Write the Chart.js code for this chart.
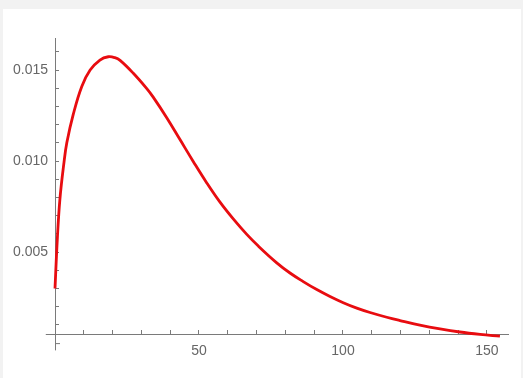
<!DOCTYPE html>
<html>
<head>
<meta charset="utf-8">
<script src="https://cdn.jsdelivr.net/npm/chart.js@4.4.0/dist/chart.umd.min.js"></script>
<style>
  html, body { margin: 0; padding: 0; background: #f2f2f2; }
  #wrap { position: absolute; left: 3px; top: 9px; width: 518px; height: 369px; background: #fff; }
</style>
</head>
<body>
<div id="wrap"><canvas id="chart" width="518" height="369"></canvas></div>
<script>
// curve
const xValues = [0, 0.8, 1.7, 3.1, 4.1, 6.4, 9.3, 12.2, 15.6, 18.5, 20.8, 22.6, 27.2, 31.8, 34.1, 38.8, 43.4, 48.0, 52.7, 57.3, 61.9, 66.6, 70.6, 77.0, 81.6, 86.2, 90.9, 95.5, 100.1, 104.8, 109.4, 115.2, 119.8, 126.7, 133.7, 140.6, 147.6, 154.5];
const yValues = [0.0030, 0.0057, 0.0079, 0.0099, 0.0110, 0.0126, 0.0141, 0.0150, 0.01555, 0.01573, 0.01568, 0.01553, 0.01482, 0.01399, 0.01351, 0.01238, 0.01118, 0.00998, 0.00880, 0.00774, 0.00682, 0.00597, 0.00533, 0.00441, 0.00385, 0.00338, 0.00294, 0.00256, 0.00222, 0.00192, 0.00168, 0.00142, 0.00124, 0.00099, 0.00078, 0.00061, 0.00048, 0.00038];

// ticks (Mathematica style: minor ticks, labels on majors only)
const xTickValues = [10, 20, 30, 40, 50, 60, 70, 80, 90, 100, 110, 120, 130, 140, 150];
const xTickLabels = [50, 100, 150];
const yTickValues = [0.001, 0.002, 0.003, 0.004, 0.005, 0.006, 0.007, 0.008, 0.009, 0.010, 0.011, 0.012, 0.013, 0.014, 0.015, 0.016];
const yTickLabels = [0.005, 0.010, 0.015];

const axisColor = '#7a7a7a';
const labelColor = '#666';
const tickFont = { family: 'Liberation Sans, Arial, sans-serif', size: 14 };

const isLabelled = (list, v) => list.some(l => Math.abs(l - v) < 1e-9);

// axes in Mathematica cross a little past each other
const axisStubs = {
  id: 'axisStubs',
  afterDraw(chart) {
    const { ctx, scales: { x, y } } = chart;
    const x0 = x.getPixelForValue(0);
    const yb = y.getPixelForValue(y.min);
    ctx.save();
    ctx.strokeStyle = axisColor;
    ctx.lineWidth = 1;
    ctx.beginPath();
    ctx.moveTo(x.getPixelForValue(-3.2), yb + 0.5);
    ctx.lineTo(x0, yb + 0.5);
    ctx.moveTo(x0 + 0.5, yb);
    ctx.lineTo(x0 + 0.5, y.getPixelForValue(-0.0004));
    ctx.moveTo(x0, y.getPixelForValue(0) + 0.5);
    ctx.lineTo(x0 + 5, y.getPixelForValue(0) + 0.5);
    ctx.stroke();
    ctx.restore();
  }
};

new Chart(document.getElementById('chart'), {
  type: 'line',
  data: {
    datasets: [{
      data: xValues.map((x, i) => ({ x: x, y: yValues[i] })),
      borderColor: 'rgb(232, 12, 16)',
      borderWidth: 2.8,
      pointRadius: 0,
      fill: false,
      tension: 0.4,
      clip: false
    }]
  },
  options: {
    responsive: false,
    animation: false,
    layout: { padding: { top: 29, right: 13, left: 0, bottom: 0 } },
    plugins: { legend: { display: false }, tooltip: { enabled: false } },
    scales: {
      x: {
        type: 'linear',
        min: 0,
        max: 157.3,
        afterBuildTicks: s => { s.ticks = xTickValues.map(v => ({ value: v })); },
        afterFit: s => { s.height = 44; },
        grid: {
          drawOnChartArea: false,
          drawTicks: true,
          tickLength: -4,
          tickColor: axisColor
        },
        border: { display: true, color: axisColor, width: 1 },
        ticks: {
          autoSkip: false,
          maxRotation: 0,
          padding: 13,
          color: labelColor,
          font: tickFont,
          callback: v => isLabelled(xTickLabels, v) ? String(v) : ''
        }
      },
      y: {
        type: 'linear',
        min: 0.0005,
        max: 0.01676,
        afterBuildTicks: s => { s.ticks = yTickValues.map(v => ({ value: v })); },
        afterFit: s => { s.width = 52; },
        grid: {
          drawOnChartArea: false,
          drawTicks: true,
          tickLength: -4,
          tickColor: axisColor
        },
        border: { display: true, color: axisColor, width: 1 },
        ticks: {
          autoSkip: false,
          padding: 11,
          color: labelColor,
          font: tickFont,
          callback: v => isLabelled(yTickLabels, v) ? v.toFixed(3) : ''
        }
      }
    }
  },
  plugins: [axisStubs]
});
</script>
</body>
</html>
